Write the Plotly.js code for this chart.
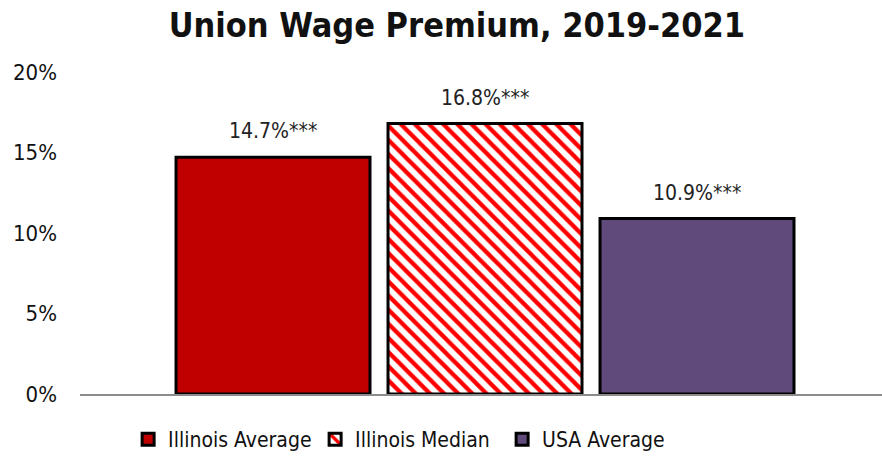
<!DOCTYPE html>
<html>
<head>
<meta charset="utf-8">
<script src="https://cdn.plot.ly/plotly-3.0.1.min.js"></script>
<style>html,body{margin:0;padding:0;background:#fff;}#chart{width:882px;height:460px;}</style>
</head>
<body>
<div id="chart"></div>
<script>
const category = ["Union Wage Premium"];
const seriesNames = ["Illinois Average", "Illinois Median", "USA Average"];
const illinoisAverage = [14.7];
const illinoisMedian = [16.8];
const usaAverage = [10.9];
const significance = ["***", "***", "***"];
const yTicks = [0, 5, 10, 15, 20];

const FONT = "'DejaVu Sans Condensed', 'DejaVu Sans', sans-serif";
const values = [illinoisAverage, illinoisMedian, usaAverage];
const colors = ["#C00000", "#FFFFFF", "#604A7B"];
const BARGAP = 0.207, GROUPGAP = 0.085;

const traces = values.map((v, i) => {
  const marker = {color: colors[i], line: {color: "#000000", width: 3}};
  if (i === 1) {
    marker.pattern = {shape: "\\", fgcolor: "#FF0000", bgcolor: "#FFFFFF", size: 10, solidity: 0.42, fillmode: "replace"};
  }
  return {
    type: "bar",
    name: seriesNames[i],
    x: category,
    y: v,
    marker: marker,
    hoverinfo: "skip"
  };
});

// labels placed through the category axis at each grouped bar's slot centre
const slot = (1 - BARGAP) / values.length;
const annotations = values.map((v, i) => ({
  xref: "x", yref: "y",
  x: (i - (values.length - 1) / 2) * slot,
  y: v[0],
  text: v[0].toFixed(1) + "%" + significance[i],
  showarrow: false,
  xanchor: "center", yanchor: "bottom",
  yshift: 12,
  font: {family: FONT, size: 21, color: "#222222"}
}));

const layout = {
  width: 882, height: 460,
  paper_bgcolor: "#ffffff", plot_bgcolor: "#ffffff",
  margin: {l: 80, r: 0, t: 72, b: 66},
  barmode: "group",
  bargap: BARGAP,
  bargroupgap: GROUPGAP,
  annotations: annotations,
  title: {text: "<b>Union Wage Premium, 2019-2021</b>", font: {family: FONT, size: 34, color: "#111111"}, x: 0.518, xanchor: "center", y: 0.945, yanchor: "middle"},
  xaxis: {type: "category", range: [-0.505, 0.495], showticklabels: false, showline: true, linecolor: "#8C8C8C", linewidth: 2, ticks: "", showgrid: false, zeroline: false, fixedrange: true},
  yaxis: {range: [0, 20], tickvals: yTicks, ticktext: yTicks.map(t => t + "%"), showgrid: false, zeroline: false, showline: false, ticks: "", ticklabelstandoff: 22, tickfont: {family: FONT, size: 22, color: "#111111"}, fixedrange: true},
  showlegend: true,
  legend: {orientation: "h", x: 0.06, xanchor: "left", y: -0.078, yanchor: "top", font: {family: FONT, size: 21, color: "#111111"}, entrywidth: 142, entrywidthmode: "pixels", itemwidth: 30, tracegroupgap: 0, traceorder: "normal"},
  font: {family: FONT}
};

Plotly.newPlot("chart", traces, layout, {displayModeBar: false, staticPlot: true});
</script>
</body>
</html>
